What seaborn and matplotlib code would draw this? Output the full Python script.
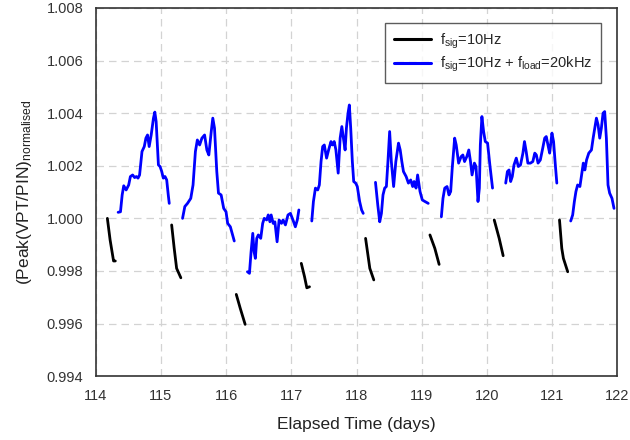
import matplotlib
matplotlib.use("Agg")
import matplotlib.pyplot as plt
import seaborn as sns
import pandas as pd
from matplotlib.lines import Line2D

# ---- data: fsig = 10 Hz (black segments) ----
sig_x = [
    [114.178, 114.22, 114.273, 114.30],
    [115.164, 115.203, 115.240, 115.305],
    [116.155, 116.216, 116.291],
    [117.152, 117.202, 117.237, 117.278],
    [118.138, 118.203, 118.264],
    [119.125, 119.200, 119.266],
    [120.111, 120.187, 120.248],
    [121.112, 121.147, 121.172, 121.238],
]
sig_y = [
    [1.0000, 0.99918, 0.99838, 0.99838],
    [0.99975, 0.99886, 0.99810, 0.99774],
    [0.99711, 0.99658, 0.99597],
    [0.99829, 0.99778, 0.99736, 0.99740],
    [0.99924, 0.99810, 0.99766],
    [0.99937, 0.99886, 0.99825],
    [0.99994, 0.99924, 0.99858],
    [0.99994, 0.99886, 0.99848, 0.99797],
]

# ---- data: fsig = 10 Hz + fload = 20 kHz (blue segments) ----
load_x = [
    [114.343, 114.379, 114.405, 114.429, 114.466, 114.505, 114.531, 114.566, 114.596, 114.622,
     114.648, 114.672, 114.709, 114.744, 114.769, 114.794, 114.819, 114.850, 114.885, 114.906,
     114.926, 114.961, 114.986, 115.012, 115.036, 115.062, 115.088, 115.112, 115.127],
    [115.331, 115.366, 115.407, 115.457, 115.492, 115.528, 115.558, 115.593, 115.628, 115.669,
     115.704, 115.734, 115.771, 115.795, 115.821, 115.856, 115.882, 115.923, 115.962, 115.998,
     116.023, 116.064, 116.124],
    [116.326, 116.357, 116.382, 116.408, 116.428, 116.448, 116.469, 116.493, 116.530, 116.560,
     116.584, 116.621, 116.645, 116.671, 116.690, 116.721, 116.747, 116.781, 116.812, 116.848,
     116.873, 116.909, 116.948, 116.985, 117.024, 117.061, 117.091, 117.115],
    [117.313, 117.338, 117.369, 117.404, 117.429, 117.455, 117.480, 117.505, 117.540, 117.571,
     117.607, 117.631, 117.657, 117.683, 117.718, 117.748, 117.774, 117.798, 117.824, 117.844,
     117.869, 117.889, 117.910, 117.935, 117.956, 117.986, 118.011, 118.047, 118.077, 118.102],
    [118.290, 118.325, 118.355, 118.381, 118.405, 118.431, 118.457, 118.481, 118.507, 118.533,
     118.568, 118.602, 118.643, 118.669, 118.694, 118.719, 118.760, 118.795, 118.830, 118.860,
     118.882, 118.912, 118.936, 118.973, 119.008, 119.049, 119.099],
    [119.300, 119.325, 119.352, 119.387, 119.417, 119.443, 119.467, 119.504, 119.528, 119.565,
     119.604, 119.630, 119.656, 119.691, 119.721, 119.747, 119.771, 119.807, 119.832, 119.862,
     119.883, 119.898, 119.922, 119.948, 119.974, 120.009, 120.044, 120.085],
    [120.287, 120.313, 120.338, 120.363, 120.388, 120.414, 120.449, 120.480, 120.514, 120.551,
     120.575, 120.601, 120.627, 120.666, 120.703, 120.733, 120.757, 120.783, 120.818, 120.855,
     120.885, 120.909, 120.935, 120.961, 120.996, 121.021, 121.046, 121.071],
    [121.284, 121.314, 121.340, 121.364, 121.390, 121.425, 121.451, 121.477, 121.501, 121.527,
     121.561, 121.602, 121.628, 121.653, 121.678, 121.704, 121.729, 121.754, 121.780, 121.805,
     121.831, 121.856, 121.881, 121.917, 121.948],
]
load_y = [
    [1.00023, 1.00025, 1.00089, 1.00124, 1.00108, 1.00127, 1.00159, 1.00165, 1.00155, 1.00159,
     1.00153, 1.00165, 1.00254, 1.00273, 1.00305, 1.00317, 1.00273, 1.00317, 1.00381, 1.00404,
     1.00368, 1.00203, 1.00197, 1.00178, 1.00153, 1.00159, 1.00146, 1.00089, 1.00057],
    [1.00000, 1.00045, 1.00057, 1.00076, 1.00127, 1.00254, 1.00298, 1.00279, 1.00305, 1.00317,
     1.00260, 1.00241, 1.00330, 1.00381, 1.00343, 1.00178, 1.00096, 1.00089, 1.00038, 1.00025,
     0.99981, 0.99968, 0.99914],
    [0.99797, 0.99791, 0.99873, 0.99943, 0.99873, 0.99848, 0.99924, 0.99937, 0.99924, 0.99981,
     1.00000, 0.99994, 1.00013, 0.99987, 1.00013, 0.99981, 0.99987, 0.99911, 0.99994, 0.99981,
     0.99994, 0.99975, 1.00013, 1.00019, 0.99994, 0.99968, 0.99994, 1.00032],
    [0.99990, 1.00064, 1.00115, 1.00108, 1.00127, 1.00216, 1.00273, 1.00279, 1.00229, 1.00260,
     1.00292, 1.00279, 1.00292, 1.00260, 1.00172, 1.00305, 1.00349, 1.00305, 1.00260, 1.00343,
     1.00400, 1.00431, 1.00343, 1.00216, 1.00140, 1.00134, 1.00121, 1.00064, 1.00032, 1.00019],
    [1.00137, 1.00051, 0.99987, 1.00019, 1.00089, 1.00115, 1.00121, 1.00216, 1.00330, 1.00216,
     1.00121, 1.00216, 1.00286, 1.00260, 1.00216, 1.00178, 1.00159, 1.00134, 1.00146, 1.00121,
     1.00140, 1.00115, 1.00165, 1.00102, 1.00070, 1.00064, 1.00057],
    [1.00006, 1.00076, 1.00115, 1.00121, 1.00089, 1.00102, 1.00191, 1.00305, 1.00279, 1.00210,
     1.00235, 1.00241, 1.00216, 1.00235, 1.00260, 1.00216, 1.00165, 1.00210, 1.00197, 1.00064,
     1.00115, 1.00279, 1.00387, 1.00330, 1.00292, 1.00286, 1.00203, 1.00115],
    [1.00134, 1.00178, 1.00184, 1.00140, 1.00159, 1.00203, 1.00229, 1.00197, 1.00203, 1.00248,
     1.00292, 1.00254, 1.00210, 1.00210, 1.00216, 1.00248, 1.00241, 1.00210, 1.00222, 1.00267,
     1.00305, 1.00311, 1.00279, 1.00248, 1.00324, 1.00292, 1.00210, 1.00134],
    [0.99990, 1.00013, 1.00064, 1.00102, 1.00127, 1.00121, 1.00165, 1.00210, 1.00184, 1.00222,
     1.00248, 1.00260, 1.00305, 1.00343, 1.00381, 1.00355, 1.00305, 1.00343, 1.00400, 1.00406,
     1.00305, 1.00127, 1.00096, 1.00076, 1.00038],
]

series_labels = [r"f$_{\mathregular{sig}}$=10Hz",
                 r"f$_{\mathregular{sig}}$=10Hz + f$_{\mathregular{load}}$=20kHz"]
x_ticks = [114, 115, 116, 117, 118, 119, 120, 121, 122]
y_ticks = [0.994, 0.996, 0.998, 1.000, 1.002, 1.004, 1.006, 1.008]

# ---- build long table ----
rows = []
for series, xs_list, ys_list in [(series_labels[0], sig_x, sig_y),
                                 (series_labels[1], load_x, load_y)]:
    for seg, (xs, ys) in enumerate(zip(xs_list, ys_list)):
        for xv, yv in zip(xs, ys):
            rows.append({"day": xv, "val": yv, "series": series, "seg": f"{series}-{seg}"})
df = pd.DataFrame(rows)

sns.set_style("white")
plt.rcParams["font.family"] = ["Liberation Sans", "DejaVu Sans"]
plt.rcParams["mathtext.fontset"] = "custom"
plt.rcParams["mathtext.rm"] = "Liberation Sans"
plt.rcParams["mathtext.it"] = "Liberation Sans"

fig = plt.figure(figsize=(6.3, 4.4), dpi=100)
ax = fig.add_axes([0.152, 0.145, 0.828, 0.837])

palette = {series_labels[0]: "black", series_labels[1]: "#0000ff"}
sns.lineplot(data=df, x="day", y="val", hue="series", units="seg", estimator=None,
             palette=palette, linewidth=2.0, sort=False, ax=ax, legend=False)

ax.set_xlim(114, 122)
ax.set_ylim(0.994, 1.008)
ax.set_xticks(x_ticks)
ax.set_yticks(y_ticks)
ax.set_xticklabels([str(t) for t in x_ticks])
ax.set_yticklabels([f"{t:.3f}" for t in y_ticks])
ax.grid(True, color="#d3d3d3", linestyle=(0, (6, 4)), linewidth=0.9)
ax.set_axisbelow(True)
for s in ax.spines.values():
    s.set_color("#333333")
    s.set_linewidth(1.2)
ax.tick_params(axis="both", direction="out", length=5, width=1, color="#333333",
               labelsize=10.5, labelcolor="#333333", pad=4)
ax.set_xlabel("Elapsed Time (days)", fontsize=12.5, color="#222222", labelpad=10)
ax.set_ylabel(r"(Peak(VPT/PIN)$_{\mathregular{normalised}}$", fontsize=12.5,
              color="#222222", labelpad=9)

handles = [Line2D([], [], color="black", lw=2.2), Line2D([], [], color="#0000ff", lw=2.2)]
leg = ax.legend(handles, series_labels, loc="upper right", bbox_to_anchor=(0.983, 0.98),
                fontsize=10.5, frameon=True, fancybox=False, edgecolor="#333333",
                handlelength=2.6, handletextpad=0.6, borderpad=0.6, labelspacing=0.3)
leg.get_frame().set_linewidth(1.0)

fig.savefig("out.png", dpi=100)
